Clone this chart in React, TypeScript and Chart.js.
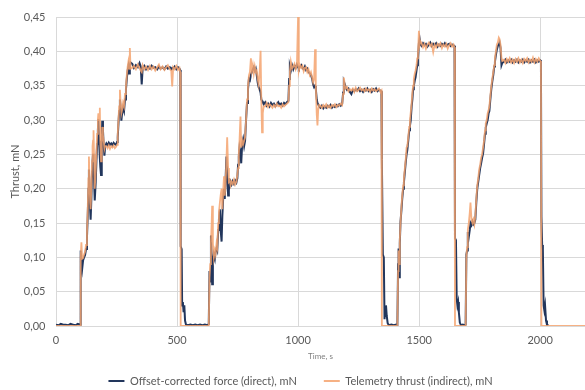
import React, { useEffect, useRef } from "react";
import { Chart, registerables } from "chart.js";

Chart.register(...registerables);

// Time axis (seconds), shared by both series
const timeS = [
  0, 10, 20, 30, 40, 50, 60, 70, 80, 90, 100,
  102, 105, 108, 112, 116, 120, 124, 128, 131, 134,
  136, 139, 141, 143, 146, 149, 151, 153, 155, 157,
  159, 161, 164, 167, 170, 173, 175, 178, 181, 183,
  186, 189, 191, 194, 197, 200, 203,
  208, 213, 218, 223, 228, 233, 238, 243, 248, 252,
  255, 258, 261, 264, 267, 270, 273, 277, 281, 285, 289, 293, 296, 299, 302, 305, 308,
  315, 322, 330, 338, 345, 350, 354, 358, 365, 372, 380, 388, 395, 402, 410, 418, 425, 432, 440, 448, 455, 462, 470, 476, 480, 484, 490, 497, 504, 510, 513,
  515, 519, 521, 524, 527, 530, 533, 537, 545, 555, 565, 575, 585, 595, 605, 615, 625, 631,
  634, 637, 640, 643, 645, 648, 652, 656, 659, 663,
  666, 670, 673, 677, 680, 684, 687, 691, 694, 697,
  700, 704, 707, 711, 714, 718, 721, 725, 730, 735,
  740, 745, 749, 752, 755, 758, 762, 765, 769, 773,
  777, 781, 785, 789, 793, 797, 801, 805, 809, 813,
  817, 821, 825, 829, 833, 837, 841, 845, 848, 851,
  854, 858,
  864, 870, 876, 882, 888, 894, 900, 906, 912, 918, 924, 930, 936, 942, 948, 954, 960,
  963, 966, 970, 975, 980, 985, 990, 995, 1000, 1003,
  1008, 1013, 1018, 1023, 1028, 1033, 1038, 1043, 1048, 1053,
  1058, 1062, 1066, 1070, 1073, 1077, 1080, 1083,
  1087, 1092, 1098, 1104, 1110, 1116, 1122, 1128, 1134, 1140, 1146, 1152, 1158, 1164, 1170, 1176, 1182,
  1186, 1189, 1193, 1197, 1202, 1208, 1214, 1220, 1226, 1232,
  1238, 1244, 1250, 1256, 1262, 1268, 1274, 1280, 1286, 1292,
  1298, 1304, 1310, 1316, 1322, 1328, 1334, 1340, 1344,
  1346, 1350, 1354, 1357, 1360, 1363, 1366, 1370, 1375, 1385, 1395, 1405, 1410,
  1413, 1415, 1418, 1420, 1423, 1427, 1430, 1434, 1437, 1441,
  1445, 1448, 1451, 1455, 1459, 1462, 1465, 1469, 1472, 1475,
  1478, 1482, 1485, 1489, 1492, 1495, 1499, 1502, 1505,
  1510, 1516, 1522, 1528, 1534, 1540, 1546, 1552, 1558, 1564,
  1570, 1576, 1582, 1588, 1594, 1600, 1606, 1612, 1618, 1624,
  1630, 1636, 1642, 1646,
  1648, 1652, 1655, 1658, 1661, 1664, 1668, 1673, 1680, 1688, 1692,
  1695, 1698, 1701, 1705, 1709, 1712, 1716, 1720, 1724, 1728,
  1732, 1736, 1740, 1744, 1748, 1752, 1756, 1760, 1764, 1768,
  1772, 1775, 1779, 1783, 1787, 1790, 1794, 1798, 1802, 1806,
  1810, 1813, 1817, 1821, 1825, 1829, 1832, 1836, 1840, 1843,
  1850, 1856, 1862, 1868, 1874, 1880, 1886, 1892, 1898, 1904,
  1910, 1916, 1922, 1928, 1934, 1940, 1946, 1952, 1958, 1964,
  1970, 1976, 1982, 1988, 1994, 2000, 2003,
  2005, 2008, 2011, 2014, 2017, 2020, 2024, 2028, 2034, 2050, 2100, 2150, 2185,
];

// Offset-corrected force (direct), mN
const forceDirectMN: (number | null)[] = [
  0.002, 0.001, 0.003, 0.002, 0.002, 0.001, 0.003, 0.002, 0.001, 0.003, 0.002,
  0.110, 0.092, 0.083, 0.096, 0.100, 0.103, 0.112, 0.130, 0.160, 0.200,
  0.228, 0.190, 0.170, 0.155, 0.185, 0.225, 0.240, 0.251, 0.230, 0.215,
  0.195, 0.183, 0.210, 0.240, 0.265, 0.285, 0.301, 0.270, 0.245, 0.232,
  0.220, 0.260, 0.299, 0.285, 0.262, 0.248, 0.262,
  0.266, 0.263, 0.267, 0.264, 0.266, 0.263, 0.267, 0.265, 0.264, 0.268,
  0.275, 0.295, 0.313, 0.330, 0.318, 0.299, 0.310, 0.318, 0.313, 0.330, 0.345, 0.362, 0.372, 0.378, 0.368, 0.380, 0.384,
  0.382, 0.376, 0.380, 0.377, 0.383, 0.378, 0.352, 0.376, 0.379, 0.374, 0.378, 0.375, 0.379, 0.376, 0.377, 0.374, 0.378, 0.375, 0.377, 0.374, 0.378, 0.375, 0.377, 0.374, 0.376, 0.375, 0.378, 0.374, 0.377, 0.375, 0.373,
  0.116, 0.112, 0.030, 0.035, 0.020, 0.030, 0.008, 0.002, 0.001, 0.002, 0.001, 0.002, 0.001, 0.002, 0.001, 0.002, 0.001, 0.003,
  0.080, 0.065, 0.132, 0.100, 0.061, 0.090, 0.104, 0.098, 0.108, 0.113,
  0.110, 0.140, 0.155, 0.170, 0.140, 0.123, 0.160, 0.190, 0.200, 0.185,
  0.210, 0.247, 0.220, 0.190, 0.215, 0.205, 0.210, 0.206, 0.211, 0.207,
  0.212, 0.209, 0.215, 0.235, 0.247, 0.260, 0.252, 0.237, 0.265, 0.272,
  0.262, 0.270, 0.300, 0.325, 0.345, 0.360, 0.358, 0.366, 0.370, 0.374,
  0.377, 0.372, 0.375, 0.366, 0.355, 0.348, 0.345, 0.340, 0.330, 0.328,
  0.326, 0.323,
  0.326, 0.321, 0.324, 0.320, 0.325, 0.322, 0.324, 0.320, 0.323, 0.326, 0.322, 0.324, 0.321, 0.325, 0.323, 0.326, 0.328,
  0.360, 0.378, 0.372, 0.380, 0.374, 0.379, 0.376, 0.381, 0.377, 0.375,
  0.378, 0.380, 0.376, 0.374, 0.378, 0.373, 0.375, 0.370, 0.368, 0.366,
  0.360, 0.352, 0.348, 0.350, 0.346, 0.330, 0.325, 0.323,
  0.320, 0.318, 0.321, 0.317, 0.320, 0.318, 0.321, 0.319, 0.322, 0.318, 0.321, 0.319, 0.322, 0.320, 0.323, 0.321, 0.324,
  0.340, 0.356, 0.352, 0.347, 0.344, 0.346, 0.341, 0.338, 0.344, 0.342,
  0.345, 0.343, 0.346, 0.342, 0.344, 0.341, 0.345, 0.343, 0.346, 0.342,
  0.344, 0.341, 0.345, 0.343, 0.346, 0.342, 0.344, 0.343, 0.342,
  0.242, 0.104, 0.100, 0.010, 0.025, 0.030, 0.015, 0.004, 0.001, 0.002, 0.001, 0.002, 0.001,
  0.090, 0.113, 0.071, 0.120, 0.152, 0.170, 0.185, 0.200, 0.209, 0.225,
  0.240, 0.250, 0.256, 0.270, 0.285, 0.292, 0.299, 0.320, 0.330, 0.345,
  0.350, 0.358, 0.362, 0.372, 0.380, 0.390, 0.412, 0.418, 0.410,
  0.408, 0.412, 0.409, 0.411, 0.407, 0.410, 0.413, 0.408, 0.411, 0.409,
  0.412, 0.407, 0.410, 0.408, 0.411, 0.409, 0.412, 0.408, 0.410, 0.411,
  0.408, 0.410, 0.409, 0.408,
  0.128, 0.125, 0.040, 0.030, 0.035, 0.020, 0.005, 0.001, 0.002, 0.001, 0.002,
  0.104, 0.110, 0.137, 0.130, 0.140, 0.150, 0.147, 0.152, 0.148, 0.150,
  0.155, 0.180, 0.200, 0.210, 0.220, 0.230, 0.237, 0.245, 0.251, 0.265,
  0.280, 0.289, 0.295, 0.300, 0.310, 0.313, 0.330, 0.345, 0.356, 0.365,
  0.378, 0.385, 0.395, 0.403, 0.408, 0.410, 0.413, 0.405, 0.380, 0.383,
  0.385, 0.388, 0.384, 0.387, 0.385, 0.388, 0.384, 0.387, 0.385, 0.388,
  0.384, 0.387, 0.385, 0.388, 0.384, 0.387, 0.385, 0.388, 0.384, 0.387,
  0.385, 0.388, 0.384, 0.387, 0.385, 0.387, 0.386,
  0.160, 0.118, 0.110, 0.030, 0.023, 0.030, 0.008, 0.002, 0.001, null, null, null, null,
];

// Telemetry thrust (indirect), mN
const telemetryMN = [
  0, 0, 0, 0, 0, 0, 0, 0, 0, 0, 0,
  0.100, 0.122, 0.098, 0.099, 0.104, 0.108, 0.118, 0.135, 0.170, 0.215,
  0.247, 0.205, 0.180, 0.170, 0.200, 0.240, 0.262, 0.270, 0.285, 0.250,
  0.215, 0.200, 0.225, 0.255, 0.280, 0.300, 0.310, 0.300, 0.318, 0.270,
  0.240, 0.265, 0.290, 0.278, 0.270, 0.258, 0.262,
  0.262, 0.259, 0.263, 0.258, 0.262, 0.260, 0.263, 0.259, 0.261, 0.264,
  0.280, 0.300, 0.320, 0.344, 0.325, 0.310, 0.315, 0.325, 0.320, 0.338, 0.350, 0.368, 0.378, 0.385, 0.375, 0.405, 0.375,
  0.376, 0.379, 0.374, 0.381, 0.376, 0.372, 0.370, 0.380, 0.374, 0.378, 0.373, 0.379, 0.374, 0.378, 0.372, 0.377, 0.381, 0.374, 0.378, 0.373, 0.377, 0.380, 0.374, 0.372, 0.349, 0.377, 0.374, 0.379, 0.373, 0.376, 0.370,
  0, 0, 0, 0, 0, 0, 0, 0, 0, 0, 0, 0, 0, 0, 0, 0, 0, 0,
  0.070, 0.090, 0.120, 0.150, 0.175, 0.120, 0.100, 0.110, 0.105, 0.120,
  0.115, 0.150, 0.165, 0.180, 0.190, 0.200, 0.170, 0.200, 0.218, 0.190,
  0.205, 0.240, 0.275, 0.230, 0.210, 0.212, 0.205, 0.210, 0.207, 0.213,
  0.206, 0.210, 0.220, 0.230, 0.250, 0.270, 0.305, 0.260, 0.270, 0.265,
  0.270, 0.275, 0.300, 0.330, 0.350, 0.365, 0.370, 0.390, 0.372, 0.380,
  0.368, 0.378, 0.370, 0.372, 0.360, 0.352, 0.370, 0.401, 0.330, 0.282,
  0.310, 0.320,
  0.320, 0.325, 0.319, 0.323, 0.321, 0.318, 0.322, 0.319, 0.324, 0.320, 0.321, 0.318, 0.323, 0.320, 0.322, 0.324, 0.326,
  0.350, 0.370, 0.385, 0.375, 0.378, 0.382, 0.374, 0.379, 0.452, 0.372,
  0.380, 0.376, 0.379, 0.371, 0.376, 0.377, 0.370, 0.374, 0.366, 0.370,
  0.362, 0.355, 0.360, 0.403, 0.350, 0.308, 0.292, 0.315,
  0.322, 0.321, 0.318, 0.322, 0.319, 0.323, 0.318, 0.321, 0.318, 0.322, 0.320, 0.323, 0.319, 0.322, 0.321, 0.324, 0.322,
  0.338, 0.362, 0.350, 0.346, 0.348, 0.342, 0.345, 0.343, 0.346, 0.341,
  0.347, 0.342, 0.344, 0.347, 0.343, 0.345, 0.342, 0.346, 0.343, 0.345,
  0.341, 0.346, 0.343, 0.345, 0.342, 0.344, 0.346, 0.341, 0.343,
  0, 0, 0, 0, 0, 0, 0, 0, 0, 0, 0, 0, 0,
  0.080, 0.110, 0.090, 0.125, 0.150, 0.175, 0.190, 0.205, 0.215, 0.230,
  0.245, 0.260, 0.262, 0.275, 0.290, 0.300, 0.310, 0.325, 0.340, 0.350,
  0.360, 0.368, 0.372, 0.380, 0.390, 0.395, 0.430, 0.410, 0.415,
  0.412, 0.406, 0.411, 0.404, 0.410, 0.413, 0.408, 0.411, 0.399, 0.410,
  0.406, 0.411, 0.408, 0.412, 0.405, 0.410, 0.407, 0.411, 0.404, 0.409,
  0.412, 0.407, 0.410, 0.406,
  0, 0, 0, 0, 0, 0, 0, 0, 0, 0, 0,
  0.100, 0.115, 0.140, 0.150, 0.165, 0.180, 0.155, 0.150, 0.155, 0.148,
  0.160, 0.185, 0.205, 0.215, 0.228, 0.235, 0.245, 0.250, 0.260, 0.270,
  0.285, 0.295, 0.300, 0.310, 0.315, 0.320, 0.335, 0.350, 0.360, 0.370,
  0.380, 0.390, 0.400, 0.410, 0.413, 0.420, 0.418, 0.410, 0.390, 0.386,
  0.388, 0.383, 0.389, 0.385, 0.390, 0.384, 0.388, 0.383, 0.389, 0.385,
  0.390, 0.384, 0.388, 0.383, 0.389, 0.386, 0.390, 0.384, 0.388, 0.385,
  0.391, 0.384, 0.389, 0.385, 0.390, 0.386, 0.384,
  0, 0, 0, 0, 0, 0, 0, 0, 0, 0, 0, 0, 0,
];

const seriesLabels = ["Offset-corrected force (direct), mN", "Telemetry thrust (indirect), mN"];
const xAxisTitle = "Time, s";
const yAxisTitle = "Thrust, mN";
const xTickValues = [0, 500, 1000, 1500, 2000];
const yTickValues = [0, 0.05, 0.1, 0.15, 0.2, 0.25, 0.3, 0.35, 0.4, 0.45];
const xMin = 0;
const xMax = 2185;
const yMin = 0;
const yMax = 0.45;

const NAVY = "#22365C";
const ORANGE = "rgba(245,163,110,0.85)";
const TEXT = "#595959";
const GRID = "#D9D9D9";
const FONT = "Lato, 'Liberation Sans', sans-serif";

const legendShift = {
  id: "legendShift",
  afterLayout(chart: any) {
    const l = chart.legend;
    if (l) {
      l.left += 8;
      l.right += 8;
    }
  },
};

export default function App() {
  const ref = useRef<HTMLCanvasElement | null>(null);

  useEffect(() => {
    if (!ref.current) return;
    const baseGen = (Chart.defaults.plugins.legend.labels as any).generateLabels;
    const chart = new Chart(ref.current, {
      type: "line",
      plugins: [legendShift],
      data: {
        datasets: [
          {
            label: seriesLabels[0],
            data: timeS.map((t, i) => ({ x: t, y: forceDirectMN[i] })) as any,
            borderColor: NAVY,
            backgroundColor: NAVY,
            borderWidth: 2,
            pointRadius: 0,
            tension: 0,
            spanGaps: false,
            order: 1,
          },
          {
            label: seriesLabels[1],
            data: timeS.map((t, i) => ({ x: t, y: telemetryMN[i] })) as any,
            borderColor: ORANGE,
            backgroundColor: ORANGE,
            borderWidth: 1.8,
            pointRadius: 0,
            tension: 0,
            order: 0,
          },
        ],
      },
      options: {
        responsive: false,
        animation: false,
        events: [],
        layout: { padding: { top: 12, left: 0, right: 0, bottom: -6.5 } },
        plugins: {
          tooltip: { enabled: false },
          legend: {
            position: "bottom",
            labels: {
              boxWidth: 16,
              boxHeight: 2,
              padding: 27,
              color: TEXT,
              font: { family: FONT, size: 11 },
              sort: (a: any, b: any) => a.datasetIndex - b.datasetIndex,
              generateLabels: (c: any) =>
                baseGen(c).map((l: any) => ({ ...l, lineWidth: 0, fillStyle: l.strokeStyle })),
            },
          },
        },
        scales: {
          x: {
            type: "linear",
            min: xMin,
            max: xMax,
            ticks: {
              autoSkip: false,
              padding: 8,
              color: TEXT,
              maxRotation: 0,
              minRotation: 0,
              font: { family: FONT, size: 11 },
              callback: (v: any) => String(v),
            },
            afterBuildTicks: (s: any) => {
              s.ticks = xTickValues.map((v) => ({ value: v }));
            },
            afterFit: (s: any) => {
              s.height = 22.5;
            },
            grid: { color: GRID, drawTicks: false },
            border: { color: GRID },
            title: {
              display: true,
              text: xAxisTitle,
              color: "#7F7F7F",
              font: { family: FONT, size: 8 },
              padding: { top: 0, bottom: -12.3 },
            },
          },
          y: {
            min: yMin,
            max: yMax,
            ticks: {
              autoSkip: false,
              padding: 10.5,
              color: TEXT,
              font: { family: FONT, size: 11 },
              callback: (v: any) => Number(v).toFixed(2).replace(".", ","),
            },
            afterBuildTicks: (s: any) => {
              s.ticks = yTickValues.map((v) => ({ value: v }));
            },
            afterFit: (s: any) => {
              s.width = 56;
            },
            grid: { color: GRID, drawTicks: false },
            border: { color: GRID },
            title: {
              display: true,
              text: yAxisTitle,
              color: TEXT,
              font: { family: FONT, size: 11 },
              padding: { top: 8.4, bottom: 0 },
            },
          },
        },
      },
    });
    return () => chart.destroy();
  }, []);

  return (
    <div style={{ position: "fixed", left: 0, top: 0, width: 585, height: 390, background: "#fff" }}>
      <canvas ref={ref} width={585} height={390} style={{ display: "block" }} />
    </div>
  );
}
